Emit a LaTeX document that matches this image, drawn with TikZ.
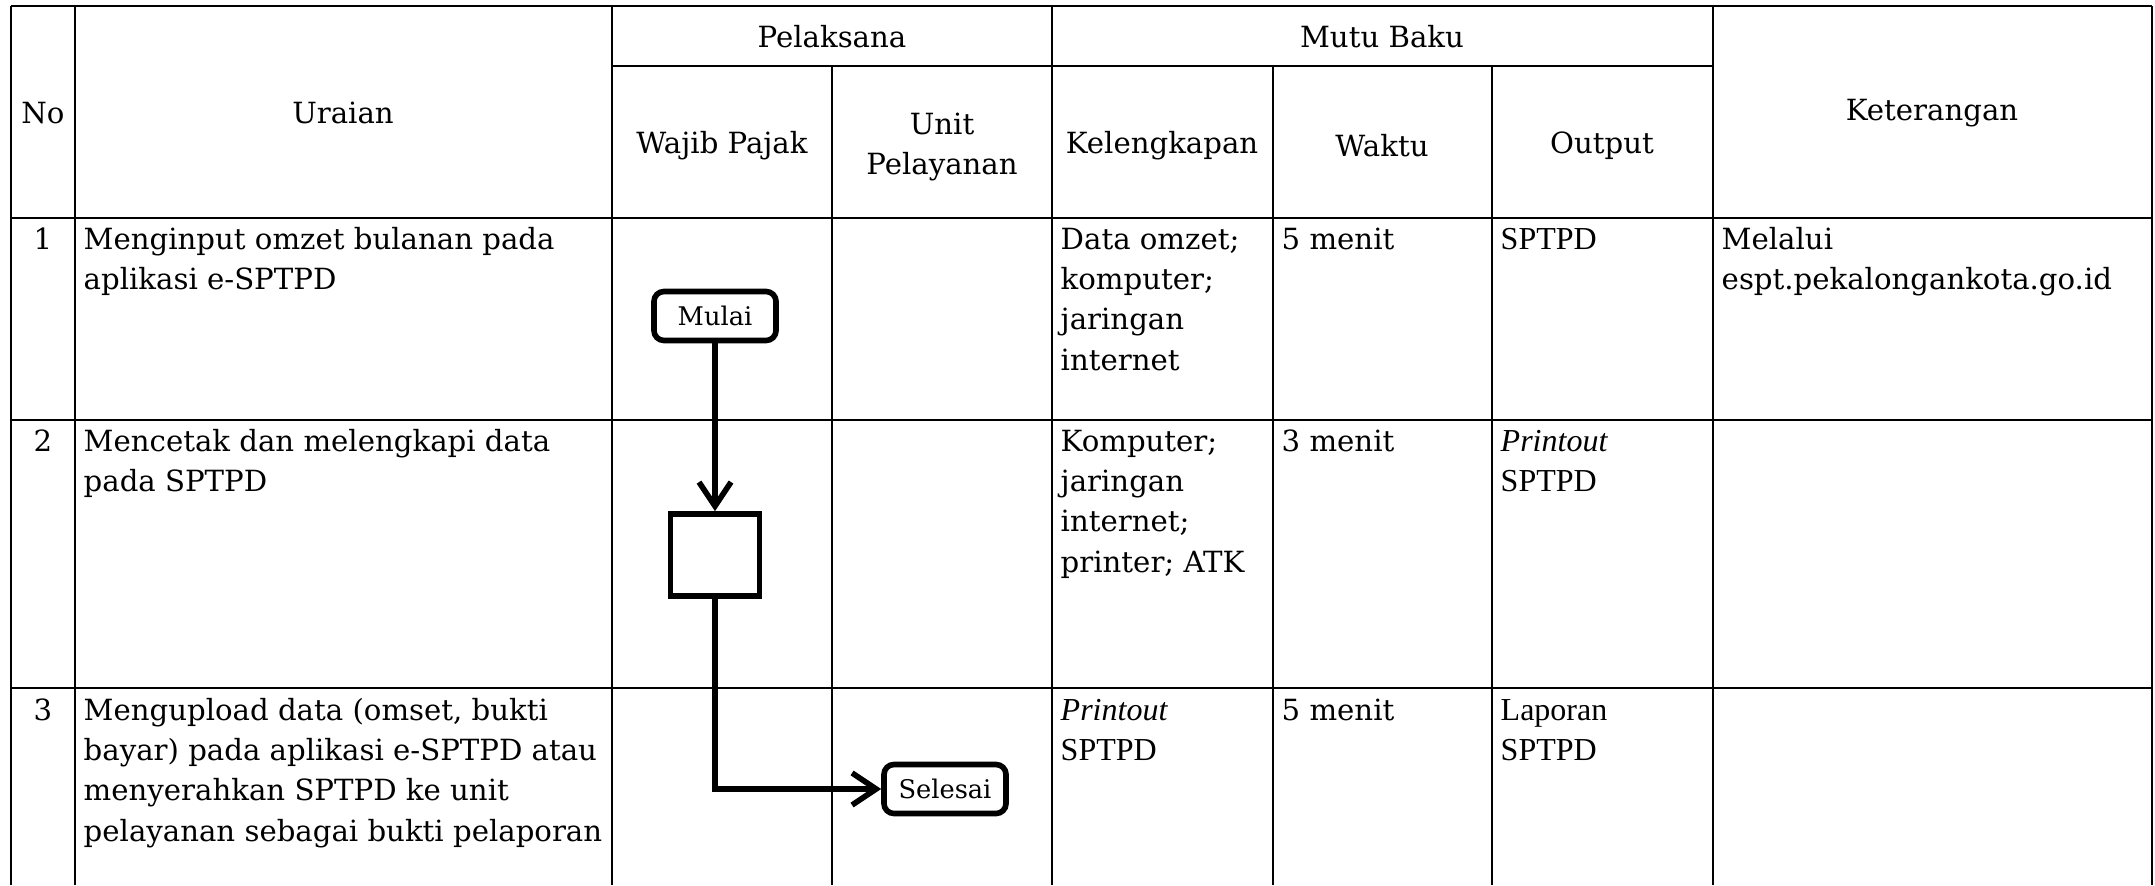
\documentclass[tikz,border=0pt]{standalone}
\usepackage{fontspec}
\setmainfont{DejaVu Serif}
\newfontfamily\timesfont{Liberation Serif}
\usetikzlibrary{arrows.meta}

\tikzset{
  garis/.style={line width=0.75pt},
  isi/.style={anchor=north west, inner sep=0pt, align=left, font=\fontsize{8.3}{11.4}\selectfont},
  nomor/.style={anchor=north, inner sep=0pt, font=\fontsize{8.3}{11.4}\selectfont},
  judul/.style={inner sep=0pt, align=center, font=\fontsize{8.3}{11.4}\selectfont},
  terminal/.style={draw, rounded corners=1mm, line width=1.6pt, minimum width=1.22cm, minimum height=0.49cm, inner sep=0pt, font=\fontsize{7.3}{9}\selectfont},
  proses/.style={draw, line width=1.6pt, minimum width=0.89cm, minimum height=0.82cm, inner sep=0pt},
  alur/.style={line width=1.6pt, -{Straight Barb[length=2.4mm,width=3.2mm]}}
}
\newcommand{\tms}[1]{{\timesfont\fontsize{9.1}{11.4}\selectfont #1}}

\begin{document}
\begin{tikzpicture}[x=0.01cm, y=-0.01cm] % une unité = un pixel
\useasboundingbox (0,0) rectangle (2155,885); % cadre de l'image

% Les traits horizontaux du tableau
\draw[garis] (11,6) -- (2152,6);
\draw[garis] (612,66) -- (1713,66);
\draw[garis] (11,218) -- (2152,218);
\draw[garis] (11,420) -- (2152,420);
\draw[garis] (11,688) -- (2152,688);
% Les traits verticaux (jusqu'en bas)
\foreach \x in {11,75,612,1052,1713,2152}
  \draw[garis] (\x,6) -- (\x,885);
\foreach \x in {832,1273,1492}
  \draw[garis] (\x,66) -- (\x,885);

% En-tête
\node[judul] (hno) at (43,113) {No};
\node[judul] (huraian) at (343,113) {Uraian};
\node[judul] (hpelaksana) at (832,37) {Pelaksana};
\node[judul] (hmutu) at (1382,37) {Mutu Baku};
\node[judul] (hket) at (1932,113) {Keterangan};
\node[judul] (hwajib) at (722,146) {Wajib Pajak};
\node[judul] (hunit) at (942,147) {Unit\\Pelayanan};
\node[judul] (hlengkap) at (1162,146) {Kelengkapan};
\node[judul] (hwaktu) at (1382,146) {Waktu};
\node[judul] (houtput) at (1602,146) {Output};

% Ligne 1
\node[nomor] (no1) at (43,221) {\strut 1};
\node[isi] (uraian1) at (83,221) {\strut Menginput omzet bulanan pada\\aplikasi e-SPTPD};
\node[isi] (lengkap1) at (1060,221) {\strut Data omzet;\\komputer;\\jaringan\\internet};
\node[isi] (waktu1) at (1281,221) {\strut 5 menit};
\node[isi] (output1) at (1500,221) {\strut\tms{SPTPD}};
\node[isi] (ket1) at (1721,221) {\strut Melalui\\espt.pekalongankota.go.id};

% Ligne 2
\node[nomor] (no2) at (43,423) {\strut 2};
\node[isi] (uraian2) at (83,423) {\strut Mencetak dan melengkapi data\\pada SPTPD};
\node[isi] (lengkap2) at (1060,423) {\strut Komputer;\\jaringan\\internet;\\printer; ATK};
\node[isi] (waktu2) at (1281,423) {\strut 3 menit};
\node[isi] (output2) at (1500,423) {\strut\tms{\itshape Printout}\\\tms{SPTPD}};

% Ligne 3
\node[nomor] (no3) at (43,692) {\strut 3};
\node[isi] (uraian3) at (83,692) {\strut Mengupload data (omset, bukti\\bayar) pada aplikasi e-SPTPD atau\\menyerahkan SPTPD ke unit\\pelayanan sebagai bukti pelaporan};
\node[isi] (lengkap3) at (1060,692) {\strut\tms{\itshape Printout}\\\tms{SPTPD}};
\node[isi] (waktu3) at (1281,692) {\strut 5 menit};
\node[isi] (output3) at (1500,692) {\strut\tms{Laporan}\\\tms{SPTPD}};

% Le diagramme
\node[terminal] (mulai) at (715,316) {Mulai};
\node[proses] (kerja) at (715,555) {};
\node[terminal] (selesai) at (945,789) {Selesai};
\draw[alur] (mulai) -- (kerja);
\draw[alur] (kerja) |- (selesai);
\end{tikzpicture}
\end{document}
